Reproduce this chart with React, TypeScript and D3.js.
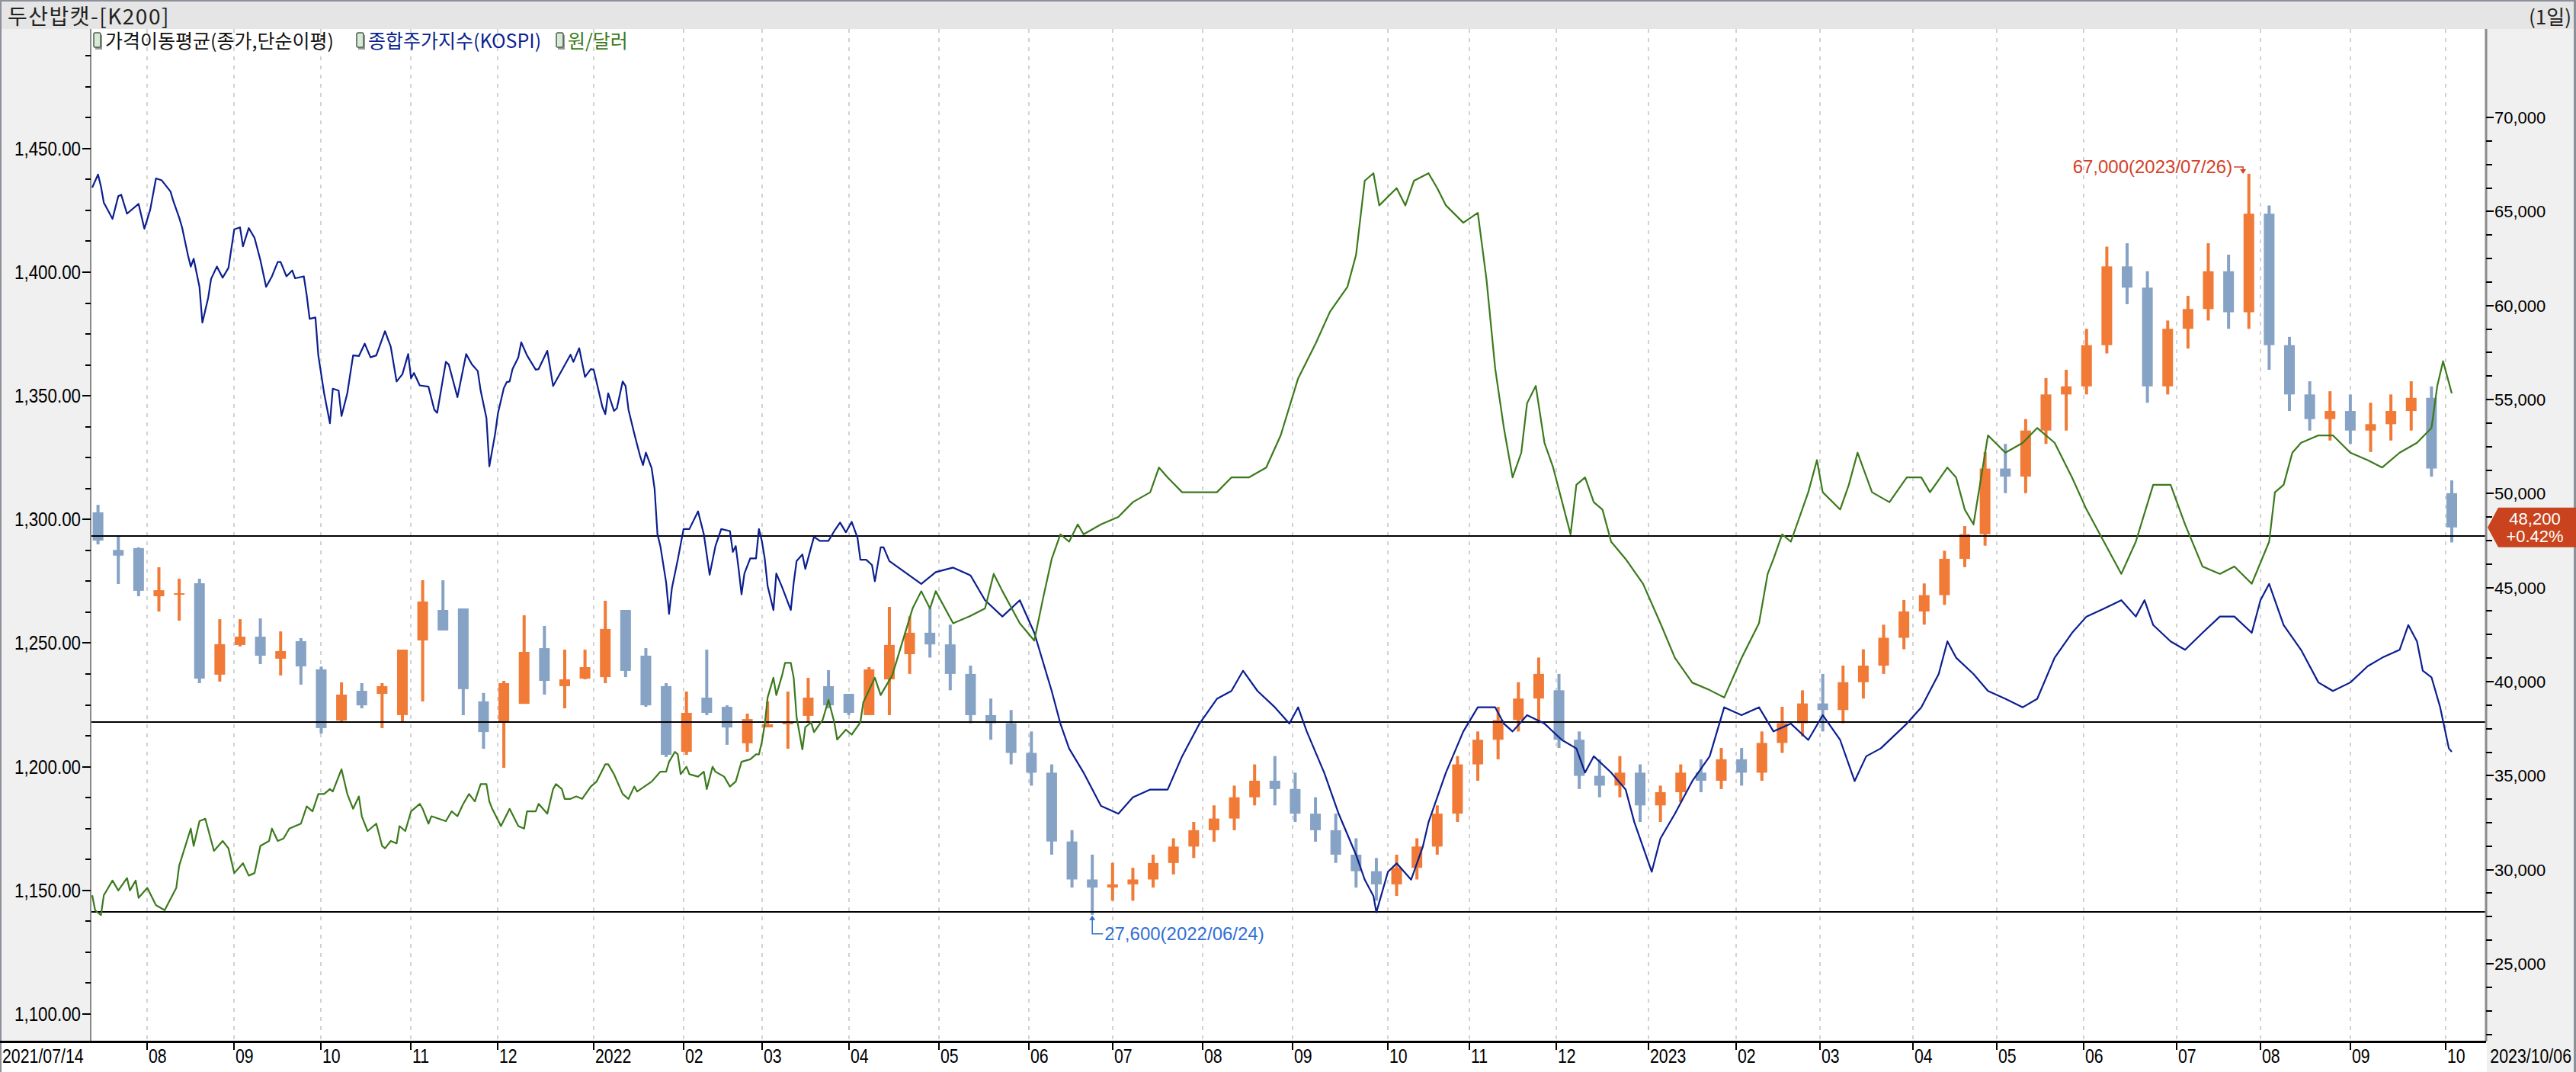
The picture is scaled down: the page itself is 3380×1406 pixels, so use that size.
import React from 'react';
import * as d3 from 'd3';

const W = 3380;
const H = 1406;

// weekly bars, one per Friday from 2021-07-16 to 2023-10-06
const weekEnds = d3.timeFriday.range(new Date(2021, 6, 16), new Date(2023, 9, 7));

// 두산밥캣 weekly OHLC (원)
const stockOpen = [
  49000, 47000, 47100, 44540, 44700, 45230, 40370, 41950, 42390, 41220, 42150, 40650, 37930, 39510, 39350, 38220,
  42190, 43810, 43890, 38950, 37890, 38820, 41780, 39760, 40160, 40240, 43810, 41380, 39760, 36270, 39150, 38660,
  36720, 37570, 37730, 38180, 39760, 39350, 38220, 40120,
  41460, 42600, 41980, 40410, 38220, 37790, 36210, 35160, 31500, 29480, 29050, 29220, 29480, 30360, 31230, 32100,
  32720, 33850, 34730, 34290, 32980, 32100, 30800, 29920, 29220, 30100, 31230, 32980, 35600, 36910, 37960, 39100,
  39540, 36910, 34990, 34470, 35160, 33420, 34120, 35160, 34730, 35870, 35160, 36740, 37790, 38840, 38490, 39970,
  40850, 42330, 43730, 44600, 46530, 47840, 51330, 50900, 53350, 55270, 55700, 57890, 62080, 60950, 55700, 58760,
  59810, 61820, 59640, 64880, 57890, 55270, 53960, 54390, 53350, 53690, 54390, 55090, 50020,
];
const stockHigh = [
  49400, 47740, 47140, 46080, 45470, 45470, 43320, 43320, 43360, 42670, 42310, 40800, 39960, 39920, 39920, 41700,
  45390, 45390, 43890, 39400, 40040, 43530, 42960, 41700, 41700, 44300, 43810, 41780, 39920, 39470, 41700, 38740,
  38300, 38950, 39470, 40200, 40610, 39350, 40770, 43970,
  43470, 43900, 43030, 40850, 39100, 38490, 37350, 35600, 32100, 30800, 30360, 30100, 30800, 31670, 32540, 33420,
  34470, 35600, 36040, 35160, 33850, 32980, 31670, 30620, 30800, 31670, 33420, 36040, 37350, 38660, 39970, 41280,
  40410, 37350, 35870, 36040, 35600, 34470, 35600, 35870, 36470, 36470, 37350, 38660, 39540, 40410, 40850, 41720,
  43030, 44340, 45220, 46960, 48270, 52210, 52640, 53960, 56140, 56580, 58760, 63130, 63310, 61820, 59200, 60510,
  63310, 62700, 67000, 65320, 58330, 55970, 55440, 55270, 54830, 55270, 55970, 55700, 50700,
];
const stockLow = [
  47300, 45190, 44540, 43730, 43240, 39920, 40000, 41870, 40930, 40330, 39840, 37240, 37890, 38580, 37530, 37890,
  38950, 42720, 38220, 36430, 35420, 38820, 39310, 38580, 40120, 39920, 40240, 38660, 35990, 36110, 38220, 36640,
  36270, 37570, 36430, 37890, 38580, 38220, 38220, 38220,
  40410, 41280, 39540, 37790, 36910, 35600, 34470, 30800, 29050, 27600, 28350, 28350, 29050, 29750, 30620, 31490,
  32100, 33420, 33420, 32540, 31490, 30360, 29050, 28350, 28610, 29480, 30800, 32540, 34730, 35870, 37350, 37790,
  36470, 34290, 33850, 33850, 32540, 32540, 33590, 34120, 34290, 34470, 34730, 36210, 37090, 37350, 37790, 39100,
  40410, 41720, 43030, 44080, 46090, 47230, 50020, 50020, 52640, 53350, 55270, 57450, 60070, 54830, 55270, 57710,
  59200, 58760, 58760, 56580, 54390, 53350, 52820, 52640, 52210, 52820, 53350, 50900, 47400,
];
const stockClose = [
  47500, 46700, 44830, 44860, 44700, 40160, 41990, 42390, 41380, 41620, 40810, 37530, 39310, 38740, 39760, 41700,
  44260, 42720, 39600, 37320, 39920, 41580, 40040, 40120, 40770, 42800, 40570, 38740, 36110, 38340, 38340, 37560,
  38010, 37730, 37890, 39150, 38740, 38340, 40650, 41950,
  42600, 41980, 40410, 38220, 37790, 36210, 35160, 31500, 29480, 29050, 29220, 29480, 30360, 31230, 32100, 32720,
  33850, 34730, 34290, 32980, 32100, 30800, 29920, 29220, 30100, 31230, 32980, 35600, 36910, 37960, 39100, 40410,
  36910, 34990, 34470, 35160, 33420, 34120, 35160, 34730, 35870, 35160, 36740, 37790, 38840, 38490, 39970, 40850,
  42330, 43730, 44600, 46530, 47840, 51330, 50900, 53350, 55270, 55700, 57890, 62080, 60950, 55700, 58760, 59810,
  61820, 59640, 64880, 57890, 55270, 53960, 54390, 53350, 53690, 54390, 55090, 51330, 48200,
];

// 종합주가지수(KOSPI): calendar days after 2021-07-14, and index value
const kospiDay = [
  0, 2, 3, 4, 7, 9, 10, 12, 16, 18, 20, 22, 24, 27, 28, 30, 31, 33, 34, 35, 37, 38, 40, 41, 43, 45, 47, 49, 51, 52,
  54, 56, 58, 60, 62, 64, 65, 67, 69, 70, 73, 74, 75, 77, 78, 80, 82, 83, 85, 86, 88, 90, 92, 94, 96, 98, 101, 103,
  105, 107, 109, 110, 111, 113, 116, 118, 119, 122, 123, 126, 129, 131, 133, 134, 136, 137, 139, 140, 142, 143, 144,
  145, 147, 148, 150, 153, 154, 157, 159, 162, 165, 166, 168, 170, 172, 173, 176, 177, 178, 180, 181, 183, 184, 185,
  187, 189, 190, 191, 193, 194, 195, 196, 198, 199, 200, 202, 204, 206, 209, 211, 213, 215, 217, 220, 221, 222, 223,
  224, 225, 227, 229, 230, 231, 232, 233, 235, 236, 238, 241, 242, 243, 245, 246, 248, 249, 251, 254, 256, 258, 260,
  262, 264, 265, 267, 269, 270, 272, 273, 275, 286, 291, 297, 303, 308, 314, 320, 325, 331, 334, 337, 342, 348, 354,
  359, 365, 371, 376, 382, 388, 393, 397, 402, 408, 413, 416, 419, 425, 430, 436, 439, 442, 443, 447, 450, 455, 459,
  461, 467, 473, 478, 484, 487, 490, 495, 501, 507, 512, 515, 518, 524, 529, 532, 535, 538, 541, 546, 552, 558, 563,
  569, 575, 580, 586, 592, 597, 603, 608, 612, 617, 626, 631, 637, 640, 643, 649, 654, 660, 666, 671, 677, 683, 688,
  694, 700, 705, 708, 711, 717, 722, 728, 734, 739, 745, 748, 751, 756, 762, 768, 773, 779, 785, 790, 796, 799, 802,
  804, 807, 810, 813, 814,
];
const kospiValue = [
  3273, 3293, 3275, 3250, 3225, 3260, 3262, 3233, 3248, 3210, 3239, 3287, 3284, 3267, 3252, 3227, 3212, 3170, 3152, 3164,
  3121, 3066, 3104, 3133, 3152, 3135, 3150, 3209, 3212, 3183, 3211, 3196, 3162, 3121, 3137, 3159, 3159, 3137, 3146, 3134,
  3137, 3108, 3072, 3074, 3016, 2958, 2912, 2965, 2962, 2923, 2958, 3016, 3015, 3034, 3013, 3016, 3053, 3029, 2976, 2987,
  3018, 2981, 2989, 2970, 2968, 2933, 2928, 3006, 3002, 2952, 3018, 3002, 2992, 2962, 2920, 2846, 2896, 2928, 2966, 2975,
  2976, 2995, 3013, 3036, 3016, 2994, 2995, 3023, 2969, 2993, 3017, 3006, 3027, 2983, 2995, 2994, 2937, 2926, 2958, 2931,
  2935, 2976, 2969, 2933, 2896, 2862, 2848, 2867, 2843, 2812, 2742, 2724, 2668, 2620, 2660, 2703, 2750, 2750, 2777, 2742,
  2680, 2724, 2750, 2747, 2715, 2724, 2689, 2650, 2682, 2705, 2705, 2750, 2732, 2705, 2663, 2626, 2682, 2661, 2626, 2668,
  2701, 2711, 2689, 2722, 2738, 2732, 2732, 2747, 2760, 2745, 2761, 2737, 2703, 2703, 2695, 2670, 2722, 2722, 2701, 2666,
  2684, 2691, 2679, 2641, 2616, 2641, 2591, 2502, 2452, 2414, 2377, 2326, 2314, 2339, 2351, 2351, 2402, 2452, 2490, 2502,
  2533, 2502, 2477, 2452, 2477, 2440, 2377, 2314, 2251, 2213, 2188, 2163, 2225, 2238, 2213, 2263, 2301, 2377, 2440, 2477,
  2477, 2452, 2440, 2465, 2452, 2427, 2414, 2377, 2402, 2377, 2351, 2301, 2263, 2225, 2276, 2314, 2364, 2402, 2477, 2465,
  2477, 2440, 2452, 2427, 2465, 2427, 2364, 2402, 2414, 2452, 2477, 2528, 2578, 2553, 2528, 2502, 2490, 2477, 2490, 2553,
  2591, 2616, 2628, 2641, 2616, 2641, 2603, 2578, 2565, 2591, 2616, 2616, 2591, 2641, 2666, 2603, 2565, 2515, 2502, 2515,
  2540, 2553, 2565, 2603, 2578, 2533, 2523, 2477, 2414, 2409,
];

// 원/달러: calendar days after 2021-07-14, and rate
const usdDay = [
  0, 1, 3, 4, 7, 9, 12, 13, 15, 16, 19, 22, 25, 29, 30, 34, 35, 37, 39, 42, 45, 47, 49, 52, 54, 56, 58, 61, 62, 64,
  66, 68, 72, 74, 76, 78, 80, 82, 83, 86, 88, 90, 92, 93, 95, 98, 100, 101, 103, 105, 106, 108, 110, 113, 114, 116, 117,
  122, 124, 126, 128, 130, 132, 134, 136, 137, 138, 141, 144, 147, 149, 150, 153, 154, 157, 159, 160, 162, 163, 165,
  167, 169, 172, 174, 177, 178, 180, 183, 185, 187, 188, 193, 196, 198, 199, 201, 202, 203, 205, 206, 209, 211, 212,
  214, 215, 218, 220, 222, 224, 227, 229, 230, 231, 232, 233, 235, 236, 238, 239, 241, 242, 243, 245, 246, 248, 249,
  252, 254, 256, 257, 260, 262, 265, 266, 268, 270, 272, 274, 276, 283, 286, 289, 291, 297, 303, 308, 311, 314, 320,
  325, 328, 331, 334, 337, 340, 342, 348, 354, 359, 365, 368, 371, 376, 382, 388, 393, 399, 405, 410, 416, 422, 427,
  433, 436, 439, 442, 444, 450, 453, 456, 461, 464, 467, 473, 478, 481, 484, 487, 490, 493, 495, 498, 501, 504, 510,
  512, 515, 518, 521, 524, 529, 535, 541, 546, 552, 558, 563, 569, 575, 578, 580, 583, 586, 592, 595, 597, 603, 606,
  609, 614, 620, 626, 631, 634, 640, 643, 646, 649, 654, 660, 666, 671, 677, 683, 688, 694, 700, 705, 711, 717, 722,
  728, 734, 739, 745, 751, 753, 756, 759, 762, 768, 773, 779, 785, 790, 796, 802, 807, 809, 811, 814,
];
const usdValue = [
  1148, 1142, 1140, 1148, 1154, 1150, 1155, 1150, 1154, 1147, 1151, 1144, 1142, 1151, 1160, 1175, 1168, 1178, 1179, 1166,
  1170, 1167, 1157, 1161, 1156, 1157, 1168, 1170, 1175, 1170, 1171, 1175, 1177, 1184, 1182, 1189, 1189, 1191, 1190, 1199,
  1189, 1183, 1188, 1180, 1174, 1177, 1168, 1167, 1170, 1169, 1176, 1174, 1182, 1185, 1183, 1177, 1180, 1178, 1182, 1180,
  1185, 1189, 1186, 1193, 1193, 1186, 1183, 1176, 1183, 1176, 1175, 1182, 1182, 1185, 1181, 1191, 1193, 1191, 1187, 1187,
  1188, 1187, 1192, 1194, 1201, 1201, 1197, 1189, 1187, 1192, 1190, 1194, 1198, 1198, 1202, 1206, 1205, 1197, 1200, 1197,
  1196, 1198, 1191, 1200, 1198, 1196, 1192, 1194, 1202, 1203, 1205, 1205, 1210, 1217, 1228, 1236, 1229, 1237, 1242, 1242,
  1236, 1220, 1207, 1216, 1218, 1214, 1219, 1227, 1218, 1211, 1215, 1213, 1218, 1226, 1231, 1236, 1229, 1233, 1237, 1264,
  1271, 1264, 1271, 1258, 1261, 1264, 1278, 1271, 1258, 1251, 1268, 1284, 1294, 1291, 1298, 1294, 1298, 1301, 1307, 1311,
  1321, 1317, 1311, 1311, 1311, 1317, 1317, 1321, 1334, 1357, 1371, 1384, 1394, 1407, 1437, 1440, 1427, 1434, 1427, 1437,
  1440, 1434, 1427, 1420, 1424, 1397, 1361, 1337, 1317, 1327, 1347, 1354, 1331, 1321, 1294, 1314, 1317, 1307, 1304, 1291,
  1284, 1274, 1258, 1244, 1234, 1231, 1228, 1244, 1258, 1278, 1284, 1294, 1291, 1311, 1324, 1311, 1304, 1314, 1327, 1311,
  1307, 1317, 1317, 1311, 1321, 1317, 1304, 1298, 1334, 1327, 1331, 1337, 1331, 1317, 1304, 1291, 1278, 1291, 1314, 1314,
  1298, 1281, 1278, 1281, 1274, 1291, 1311, 1314, 1327, 1331, 1334, 1334, 1327, 1324, 1321, 1327, 1331, 1337, 1354, 1364,
  1351,
];

// first trading day of each month and its label
const monthTickDates = [
  '2021-08-02', '2021-09-01', '2021-10-01', '2021-11-01', '2021-12-01', '2022-01-03', '2022-02-03', '2022-03-02',
  '2022-04-01', '2022-05-02', '2022-06-02', '2022-07-01', '2022-08-01', '2022-09-01', '2022-10-04', '2022-11-01',
  '2022-12-01', '2023-01-02', '2023-02-01', '2023-03-02', '2023-04-03', '2023-05-02', '2023-06-01', '2023-07-03',
  '2023-08-01', '2023-09-01', '2023-10-04',
];
const monthTickLabels = [
  '08', '09', '10', '11', '12', '2022', '02', '03', '04', '05', '06', '07', '08', '09', '10', '11',
  '12', '2023', '02', '03', '04', '05', '06', '07', '08', '09', '10',
];

const leftTicks = [1100, 1150, 1200, 1250, 1300, 1350, 1400, 1450];
const rightTicks = [25000, 30000, 35000, 40000, 45000, 50000, 55000, 60000, 65000, 70000];
const refLines = [47750, 37850, 27750];

const firstDate = '2021-07-14';
const lastDate = '2023-10-06';
const lastPrice = 48200;
const lastChange = '+0.42%';
const highMark = { date: '2023-07-26', value: 67000, label: '67,000(2023/07/26)' };
const lowMark = { date: '2022-06-24', value: 27600, label: '27,600(2022/06/24)' };

const legendItems = [
  { label: '가격이동평균(종가,단순이평)', color: '#111111', w: 318 },
  { label: '종합주가지수(KOSPI)', color: '#0b1f8f', w: 235 },
  { label: '원/달러', color: '#3b7a1c', w: 84 },
];

const parse = d3.timeParse('%Y-%m-%d');

const plotL = 120;
const plotR = 3262;
const plotT = 38;
const plotB = 1366;

const upColor = '#f07a36';
const downColor = '#86a2c4';
const kospiColor = '#0b1f8f';
const usdColor = '#3b7a1c';

const numFont = '"Liberation Sans", Arial, sans-serif';
const krFont = '"Noto Sans CJK KR", "Noto Sans", sans-serif';

export default function App() {
  const start = parse(firstDate) as Date;
  const x = d3.scaleTime()
    .domain([start, parse(lastDate) as Date])
    .range([121, 3217]);
  const yR = d3.scaleLinear().domain([25000, 70000]).range([1264, 154]);
  const yL = d3.scaleLinear().domain([1100, 1450]).range([1330, 194.8]);
  const yK = d3.scaleLinear().domain([2159, 3280]).range([1200, 240]);

  const dayX = (d: number) => x(d3.timeDay.offset(start, d));

  const kospiPath = d3.line<number>()
    .x((_, i) => dayX(kospiDay[i]))
    .y(d => yK(d))(kospiValue) as string;
  const usdPath = d3.line<number>()
    .x((_, i) => dayX(usdDay[i]))
    .y(d => yL(d))(usdValue) as string;

  const leftMinor = d3.range(1100 - 12.5, 1490, 12.5);
  const rightMinor = d3.range(21250, 71000, 1250);

  const candleW = 14;

  const hx = x(parse(highMark.date) as Date);
  const hy = yR(highMark.value);
  const lx = x(parse(lowMark.date) as Date);
  const ly = yR(lowMark.value);
  const py = yR(lastPrice);

  let legendX = 123;
  const legendPos = legendItems.map(item => {
    const px = legendX;
    legendX += 15 + item.w + 12;
    return { ...item, x: px };
  });

  return (
    <>
      <style>{'body{margin:0;background:#fff;}'}</style>
      <svg width={W} height={H} style={{ display: 'block' }} xmlns="http://www.w3.org/2000/svg">
        {/* background areas */}
        <rect x={0} y={0} width={W} height={H} fill="#ffffff" />
        <rect x={0} y={0} width={W} height={plotT} fill="#e5e5e5" />
        <rect x={0} y={0} width={W} height={2} fill="#8c9099" />
        <rect x={0} y={plotT} width={plotL - 1} height={plotB - plotT} fill="#f0f0f0" />
        <rect x={plotR + 1} y={plotT} width={W - plotR - 1} height={H - plotT} fill="#f0f0f0" />
        <rect x={0} y={0} width={2} height={H} fill="#8c9099" />
        <rect x={W - 3} y={0} width={3} height={H} fill="#8c9099" />

        {/* title bar */}
        <text x={10} y={32} fontFamily={krFont} fontSize={28} fill="#222" letterSpacing={1.5}>두산밥캣-[K200]</text>
        <text x={W - 6} y={32} fontFamily={krFont} fontSize={26} fill="#222" textAnchor="end">(1일)</text>

        {/* month grid */}
        {monthTickDates.map(d => {
          const mx = Math.round(x(parse(d) as Date));
          return (
            <line key={'g' + d} x1={mx} x2={mx} y1={plotT} y2={plotB} stroke="#d2d2d2" strokeWidth={2}
              strokeDasharray="5,7" />
          );
        })}

        {/* candles */}
        {weekEnds.map((d, i) => {
          const o = stockOpen[i];
          const c = stockClose[i];
          const cx = x(d);
          const col = c >= o ? upColor : downColor;
          const top = yR(Math.max(o, c));
          const bh = Math.max(2, yR(Math.min(o, c)) - top);
          return (
            <g key={'c' + i}>
              <line x1={cx} x2={cx} y1={yR(stockHigh[i])} y2={yR(stockLow[i])} stroke={col} strokeWidth={4} />
              <rect x={cx - candleW / 2} y={top} width={candleW} height={bh} fill={col} />
            </g>
          );
        })}

        {/* reference lines */}
        {refLines.map(v => (
          <line key={'r' + v} x1={plotL} x2={plotR} y1={Math.round(yR(v))} y2={Math.round(yR(v))}
            stroke="#000" strokeWidth={2} shapeRendering="crispEdges" />
        ))}

        {/* series lines */}
        <path d={kospiPath} fill="none" stroke={kospiColor} strokeWidth={2.2} strokeLinejoin="round" />
        <path d={usdPath} fill="none" stroke={usdColor} strokeWidth={2.2} strokeLinejoin="round" />

        {/* high / low annotations */}
        <g>
          <text x={hx - 14} y={hy - 1} fontFamily={numFont} fontSize={24} fill="#d4412a" textAnchor="end">{highMark.label}</text>
          <path d={`M${hx - 12},${hy - 9}H${hx}V${hy - 3}`} fill="none" stroke="#d4412a" strokeWidth={1.5} />
          <path d={`M${hx - 4},${hy - 6}L${hx + 4},${hy - 6}L${hx},${hy}Z`} fill="#d4412a" />
        </g>
        <g>
          <path d={`M${lx},${ly + 3}V${ly + 25}H${lx + 14}`} fill="none" stroke="#2f6fd6" strokeWidth={1.5} />
          <path d={`M${lx - 4},${ly + 7}L${lx + 4},${ly + 7}L${lx},${ly + 1}Z`} fill="#2f6fd6" />
          <text x={lx + 16} y={ly + 33} fontFamily={numFont} fontSize={24} fill="#2f6fd6">{lowMark.label}</text>
        </g>

        {/* legend */}
        {legendPos.map(item => (
          <g key={item.label}>
            <rect x={item.x + 2} y={46} width={9} height={19} fill="#9a9a9a" />
            <rect x={item.x} y={43} width={9} height={19} rx={2} fill="#d6ead6" stroke="#4d5d4d" strokeWidth={1.5} />
            <text x={item.x + 15} y={63} fontFamily={krFont} fontSize={25} fill={item.color}>{item.label}</text>
          </g>
        ))}

        {/* left axis */}
        <line x1={119} x2={119} y1={plotT} y2={plotB} stroke="#8a8a8a" strokeWidth={2} />
        {leftMinor.filter(v => yL(v) > plotT && yL(v) < plotB).map(v => (
          <line key={'lm' + v} x1={112} x2={119} y1={Math.round(yL(v))} y2={Math.round(yL(v))} stroke="#000" strokeWidth={2}
            shapeRendering="crispEdges" />
        ))}
        {leftTicks.map(v => (
          <g key={'lt' + v}>
            <line x1={108} x2={119} y1={Math.round(yL(v))} y2={Math.round(yL(v))} stroke="#000" strokeWidth={2}
              shapeRendering="crispEdges" />
            <text transform={`translate(106,${yL(v) + 9}) scale(0.86,1)`} fontFamily={numFont} fontSize={26}
              fill="#000" textAnchor="end">{d3.format(',.2f')(v)}</text>
          </g>
        ))}

        {/* right axis */}
        <line x1={plotR} x2={plotR} y1={plotT} y2={plotB} stroke="#8a8a8a" strokeWidth={3} />
        {rightMinor.filter(v => yR(v) > plotT + 5 && yR(v) < plotB).map(v => (
          <line key={'rm' + v} x1={plotR} x2={plotR + 8} y1={Math.round(yR(v))} y2={Math.round(yR(v))} stroke="#000"
            strokeWidth={2} shapeRendering="crispEdges" />
        ))}
        {rightTicks.map(v => (
          <g key={'rt' + v}>
            <line x1={plotR} x2={plotR + 10} y1={Math.round(yR(v))} y2={Math.round(yR(v))} stroke="#000" strokeWidth={2}
              shapeRendering="crispEdges" />
            <text x={plotR + 11} y={yR(v) + 8} fontFamily={numFont} fontSize={22} fill="#000">{d3.format(',')(v)}</text>
          </g>
        ))}

        {/* last price tag */}
        <path d={`M${plotR + 2},${py}L${plotR + 16},${py - 26}H${W}V${py + 26}H${plotR + 16}Z`} fill="#c8431e" />
        <text x={3326} y={py - 4} fontFamily={numFont} fontSize={22} fill="#fff" textAnchor="middle">{d3.format(',')(lastPrice)}</text>
        <text x={3326} y={py + 19} fontFamily={numFont} fontSize={22} fill="#fff" textAnchor="middle">{lastChange}</text>

        {/* bottom axis */}
        <rect x={0} y={plotB - 1} width={plotR} height={3} fill="#000" />
        {monthTickDates.map((d, i) => {
          const mx = Math.round(x(parse(d) as Date));
          return (
            <g key={'bt' + d}>
              <line x1={mx} x2={mx} y1={plotB} y2={plotB + 11} stroke="#000" strokeWidth={2} />
              <text transform={`translate(${mx + 2},${plotB + 28}) scale(0.82,1)`} fontFamily={numFont} fontSize={26}
                fill="#000">{monthTickLabels[i]}</text>
            </g>
          );
        })}
        <text transform={`translate(3,${plotB + 28}) scale(0.82,1)`} fontFamily={numFont} fontSize={26} fill="#000">
          {firstDate.replace(/-/g, '/')}
        </text>
        <text transform={`translate(3374,${plotB + 28}) scale(0.82,1)`} fontFamily={numFont} fontSize={26} fill="#000"
          textAnchor="end">{lastDate.replace(/-/g, '/')}</text>
      </svg>
    </>
  );
}
